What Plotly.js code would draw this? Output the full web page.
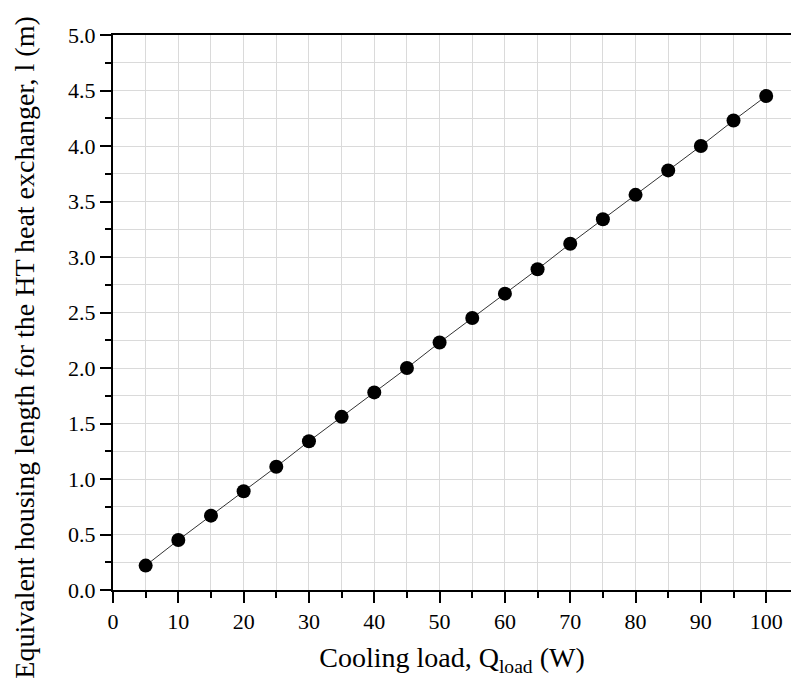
<!DOCTYPE html>
<html>
<head>
<meta charset="utf-8">
<script src="https://cdn.plot.ly/plotly-3.0.1.min.js"></script>
<style>html,body{margin:0;padding:0;background:#fff;}#chart{width:791px;height:682px;}</style>
</head>
<body>
<div id="chart"></div>
<script>
const coolingLoad = [5, 10, 15, 20, 25, 30, 35, 40, 45, 50, 55, 60, 65, 70, 75, 80, 85, 90, 95, 100];
const housingLength = [0.22, 0.45, 0.67, 0.89, 1.11, 1.34, 1.56, 1.78, 2.00, 2.23, 2.45, 2.67, 2.89, 3.12, 3.34, 3.56, 3.78, 4.00, 4.23, 4.45];
const xTickVals = [0, 10, 20, 30, 40, 50, 60, 70, 80, 90, 100];
const yTickVals = [0, 0.5, 1, 1.5, 2, 2.5, 3, 3.5, 4, 4.5, 5];
const xTitle = 'Cooling load, Q<sub>load</sub> (W)';
const yTitle = 'Equivalent housing length for the HT heat exchanger, l (m)';

const FONT = '"Liberation Serif", "Times New Roman", Times, serif';

const trace = {
  x: coolingLoad,
  y: housingLength,
  type: 'scatter',
  mode: 'lines+markers',
  line: {color: '#333333', width: 1},
  marker: {color: '#000000', size: 14},
  cliponaxis: false,
  showlegend: false
};

const layout = {
  width: 791,
  height: 682,
  margin: {l: 113, r: 0, t: 35, b: 92, pad: 0},
  paper_bgcolor: '#ffffff',
  plot_bgcolor: '#ffffff',
  font: {family: FONT, color: '#000000', size: 22},
  xaxis: {
    range: [0, 103.8],
    tickvals: xTickVals,
    ticktext: xTickVals.map(String),
    ticks: 'outside',
    ticklen: 11,
    tickwidth: 2,
    tickcolor: '#000',
    showline: true,
    linecolor: '#000',
    linewidth: 2,
    mirror: true,
    showgrid: true,
    gridcolor: '#dadada',
    gridwidth: 1,
    zeroline: false,
    tickfont: {family: FONT, size: 22, color: '#000'},
    minor: {dtick: 5, tick0: 0, ticks: 'outside', ticklen: 6, tickwidth: 2, tickcolor: '#000', showgrid: true, gridcolor: '#dadada', gridwidth: 1},
    title: {text: xTitle, font: {family: FONT, size: 28, color: '#000'}, standoff: 14}
  },
  yaxis: {
    range: [0, 5.0],
    tickvals: yTickVals,
    ticktext: yTickVals.map(v => v.toFixed(1)),
    ticks: 'outside',
    ticklen: 11,
    tickwidth: 2,
    tickcolor: '#000',
    showline: true,
    linecolor: '#000',
    linewidth: 2,
    mirror: false,
    showgrid: true,
    gridcolor: '#dadada',
    gridwidth: 1,
    zeroline: false,
    tickfont: {family: FONT, size: 22, color: '#000'},
    minor: {dtick: 0.25, tick0: 0, ticks: 'outside', ticklen: 6, tickwidth: 2, tickcolor: '#000', showgrid: true, gridcolor: '#dadada', gridwidth: 1}
  },
  annotations: [{
    text: yTitle,
    xref: 'paper', yref: 'paper',
    x: -0.131, y: 0.437,
    xanchor: 'center', yanchor: 'middle',
    textangle: -90,
    showarrow: false,
    font: {family: FONT, size: 28, color: '#000'}
  }]
};

Plotly.newPlot('chart', [trace], layout, {displayModeBar: false, staticPlot: true});
</script>
</body>
</html>
